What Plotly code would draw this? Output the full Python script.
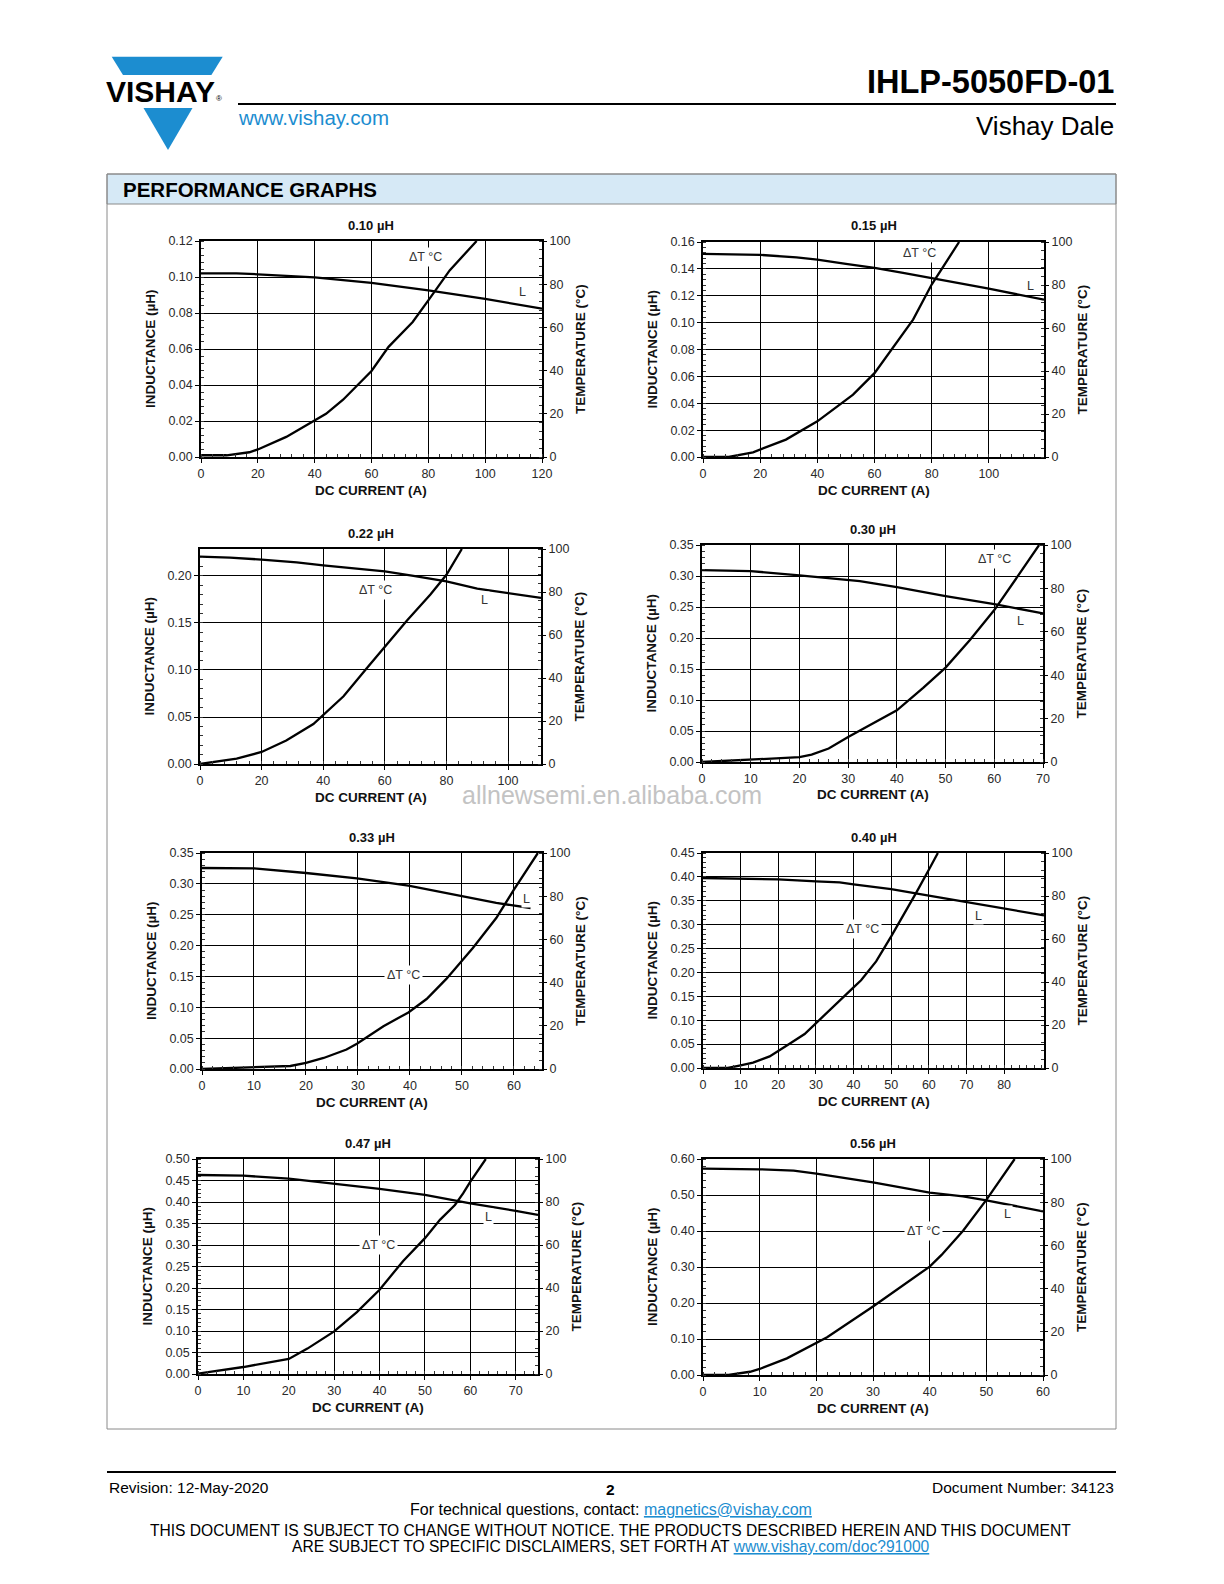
import plotly.graph_objects as go

W, H = 1224, 1584
FW, FH = 1208, 1568          # figure kept a little smaller than the window (avoids page overflow)

titles = ["0.10 µH", "0.15 µH", "0.22 µH", "0.30 µH", "0.33 µH", "0.40 µH", "0.47 µH", "0.56 µH"]

# ---- curve data: inductance L (µH) and temperature rise ΔT (°C) vs DC current (A)
c1_L_x = [0, 12.5, 20, 40, 60, 80, 100, 120]
c1_L_y = [0.102, 0.102, 0.1015, 0.0998, 0.0967, 0.0926, 0.0878, 0.0824]
c1_T_x = [0, 9, 17, 20, 30, 40, 44, 50, 60, 66, 74.5, 80, 87.5, 97]
c1_T_y = [0.8, 0.8, 2.2, 3.5, 9.3, 16.7, 20, 26.5, 39.8, 51, 62.5, 72.5, 86.4, 100]

c2_L_x = [0, 9, 20, 32.7, 40, 50, 60, 70, 80, 91, 100, 119.3]
c2_L_y = [0.1511, 0.151, 0.1504, 0.1486, 0.1469, 0.1437, 0.1407, 0.137, 0.1332, 0.129, 0.1253, 0.1171]
c2_T_x = [0, 9, 17.5, 29, 40, 52.5, 60, 67.7, 73.5, 80, 85, 89.6]
c2_T_y = [0, 0, 2.2, 8.1, 16.6, 29, 39, 53, 63.9, 80.2, 90.2, 100]

c3_L_x = [0, 9.75, 20, 31.4, 40, 51, 60, 69.3, 80, 90, 100, 110.7]
c3_L_y = [0.2206, 0.2195, 0.2174, 0.2145, 0.2113, 0.2078, 0.205, 0.2, 0.1943, 0.1865, 0.1819, 0.1766]
c3_T_x = [0, 11.9, 20, 28, 36.8, 40, 46.6, 54.2, 60, 67.2, 74.8, 80, 85]
c3_T_y = [0, 2.5, 5.6, 10.9, 18.6, 22.9, 31.5, 44.7, 54.7, 66.7, 78.8, 88, 100]

c4_L_x = [0, 10, 20, 30, 32.4, 40, 50, 60, 70]
c4_L_y = [0.3096, 0.308, 0.301, 0.2945, 0.2918, 0.2821, 0.2676, 0.2547, 0.2396]
c4_T_x = [0, 10, 15, 20, 22.5, 26, 30, 34.4, 40, 45.4, 50, 55, 60, 65, 69.2]
c4_T_y = [0, 1.1, 1.4, 2.2, 3.4, 6.2, 11.5, 16.9, 23.8, 34.2, 43.5, 56.2, 70, 86.2, 100]

c5_L_x = [0, 10, 20, 29.8, 39.7, 49.8, 56.6, 63.2]
c5_L_y = [0.3257, 0.3252, 0.3176, 0.309, 0.2971, 0.2809, 0.269, 0.2609]
c5_T_x = [0, 10, 17, 20, 23.4, 27.8, 29.8, 34.9, 39.7, 43.2, 47, 52.1, 56.6, 60, 64.6]
c5_T_y = [0, 0.9, 1.4, 2.8, 5.1, 9, 11.7, 19.8, 26.2, 32.4, 41.7, 56, 69.9, 83, 100]

c6_L_x = [0, 10, 20, 30, 36.3, 40, 50, 60, 70, 80, 90.6]
c6_L_y = [0.3977, 0.397, 0.3949, 0.3907, 0.3886, 0.3844, 0.3746, 0.3607, 0.3474, 0.3349, 0.3195]
c6_T_x = [0, 6.6, 10, 13.3, 17.7, 20, 23, 27, 30, 33.7, 40, 42, 46, 50, 53.1, 56.7, 60, 62.4]
c6_T_y = [0, 0, 1.2, 2.5, 5.4, 7.8, 11.3, 15.8, 20.9, 27.1, 37.5, 40.8, 49.6, 61.2, 70.5, 81.7, 92.2, 100]

c7_L_x = [0, 7.1, 10, 20, 30, 40, 50, 57, 60, 70, 74.9]
c7_L_y = [0.4628, 0.462, 0.4613, 0.4543, 0.4427, 0.4303, 0.4164, 0.4025, 0.397, 0.3793, 0.37]
c7_T_x = [0, 10, 20, 24.1, 30, 35, 40, 45.2, 50, 53.3, 56.6, 58.4, 60, 63.4]
c7_T_y = [0.2, 3.25, 7, 11.8, 19.8, 28.8, 39.2, 52.6, 63.2, 71.7, 78.6, 84, 89.5, 100]

c8_L_x = [0, 4.8, 10, 16, 20, 30, 40, 45.9, 50, 60]
c8_L_y = [0.5733, 0.5733, 0.5714, 0.5677, 0.5594, 0.5353, 0.5065, 0.4963, 0.4852, 0.4545]
c8_T_x = [0, 4.5, 8.3, 10, 14.8, 20, 21.9, 30, 40, 42.1, 45.9, 50, 55]
c8_T_y = [0, 0, 1.5, 2.8, 7.7, 14.7, 17.5, 31.7, 50.2, 55.6, 66.8, 81.1, 100]

L_x = [c1_L_x, c2_L_x, c3_L_x, c4_L_x, c5_L_x, c6_L_x, c7_L_x, c8_L_x]
L_y = [c1_L_y, c2_L_y, c3_L_y, c4_L_y, c5_L_y, c6_L_y, c7_L_y, c8_L_y]
T_x = [c1_T_x, c2_T_x, c3_T_x, c4_T_x, c5_T_x, c6_T_x, c7_T_x, c8_T_x]
T_y = [c1_T_y, c2_T_y, c3_T_y, c4_T_y, c5_T_y, c6_T_y, c7_T_y, c8_T_y]

# axis scales
x_max = [120, 119.3, 110.7, 70, 65.4, 90.6, 74.9, 60]
x_step = [20, 20, 20, 10, 10, 10, 10, 10]
x_tick_last = [120, 100, 100, 70, 60, 80, 70, 60]
y_max = [0.12, 0.16, 0.2287, 0.35, 0.35, 0.45, 0.50, 0.60]
y_step = [0.02, 0.02, 0.05, 0.05, 0.05, 0.05, 0.05, 0.10]
y_tick_last = [0.12, 0.16, 0.20, 0.35, 0.35, 0.45, 0.50, 0.60]
t_ticks = [0, 20, 40, 60, 80, 100]

# label positions (x in A, y on temperature scale)
dT_pos = [(79.1, 92.6), (75.6, 94.9), (57.1, 81.1), (60, 93.4), (38.7, 43.7), (42.5, 64.7), (39.7, 59.8), (38.9, 66.5)]
L_pos = [(113, 76.4), (114.5, 79.7), (92.4, 76.4), (65.4, 64.9), (62.5, 78.9), (73.3, 70.9), (63.9, 73.2), (53.7, 74.5)]

# plot-area boxes in page pixels (left, right, top, bottom)
boxes = [(201, 542, 241, 457), (703, 1044, 242, 457),
         (200, 541, 549, 764), (702, 1043, 545, 762),
         (202, 542, 853, 1069), (703, 1044, 853, 1068),
         (198, 538, 1159, 1374), (703, 1043, 1159, 1375)]

FONT = "Liberation Sans, Arial, Helvetica, sans-serif"
TICK_FONT = dict(family=FONT, size=12.5, color="#2a2a2a")
BOLD = dict(family=FONT, size=13.5, color="#111")
MINOR = dict(ticks="inside", ticklen=3, tickcolor="#333", tickwidth=0.8, showgrid=False, tick0=0)


def px(x):
    return x / FW


def py(y):
    return 1 - y / FH


def frange(a, b, s):
    out = []
    k = 0
    while a + k * s <= b + 1e-9:
        out.append(round(a + k * s, 6))
        k += 1
    return out


fig = go.Figure()
layout = dict(width=FW, height=FH, margin=dict(l=0, r=0, t=0, b=0, autoexpand=False),
              paper_bgcolor="white", plot_bgcolor="white", showlegend=False,
              font=dict(family=FONT))
annotations = []
shapes = []

for i in range(8):
    n = i + 1
    nr = i + 9
    l, r, t, b = boxes[i]
    xa = "x" if n == 1 else f"x{n}"
    ya = "y" if n == 1 else f"y{n}"
    yr = f"y{nr}"
    fig.add_trace(go.Scatter(x=L_x[i], y=L_y[i], mode="lines", xaxis=xa, yaxis=ya,
                             line=dict(color="black", width=2.3), hoverinfo="skip"))
    fig.add_trace(go.Scatter(x=T_x[i], y=T_y[i], mode="lines", xaxis=xa, yaxis=yr,
                             line=dict(color="black", width=2.3), hoverinfo="skip"))
    xv = frange(0, x_tick_last[i], x_step[i])
    yv = frange(0, y_tick_last[i], y_step[i])
    layout[f"xaxis{n}"] = dict(
        domain=[px(l), px(r)], anchor=ya, range=[0, x_max[i]],
        tickvals=xv, ticktext=[str(int(v)) for v in xv], tickfont=TICK_FONT,
        showgrid=True, gridcolor="black", gridwidth=1, zeroline=False,
        showline=True, linecolor="black", linewidth=1.5, mirror=True,
        ticks="outside", ticklen=4, tickcolor="black", tickwidth=1,
        minor=dict(dtick=x_step[i] / 5, **MINOR),
        fixedrange=True)
    layout[f"yaxis{n}"] = dict(
        domain=[py(b), py(t)], anchor=xa, range=[0, y_max[i]],
        tickvals=yv, ticktext=[f"{v:.2f}" for v in yv], tickfont=TICK_FONT,
        showgrid=True, gridcolor="black", gridwidth=1, zeroline=False,
        showline=True, linecolor="black", linewidth=1.5, mirror=True,
        ticks="outside", ticklen=4, tickcolor="black", tickwidth=1,
        minor=dict(dtick=y_step[i] / 5, **MINOR),
        fixedrange=True)
    layout[f"yaxis{nr}"] = dict(
        domain=[py(b), py(t)], anchor=xa, overlaying=ya, side="right",
        range=[0, 100], tickvals=t_ticks, tickfont=TICK_FONT,
        showgrid=False, zeroline=False, showline=False,
        ticks="outside", ticklen=4, tickcolor="black", tickwidth=1,
        minor=dict(dtick=4, **MINOR),
        fixedrange=True)
    cx = (l + r) / 2
    cy = (t + b) / 2
    annotations += [
        dict(text=f"<b>{titles[i]}</b>", x=px(cx), y=py(t - 16), xref="paper", yref="paper",
             showarrow=False, font=dict(family=FONT, size=13, color="#111"), xanchor="center", yanchor="middle"),
        dict(text="<b>INDUCTANCE (µH)</b>", x=px(l - 51), y=py(cy), xref="paper", yref="paper",
             showarrow=False, font=BOLD, textangle=-90, xanchor="center", yanchor="middle"),
        dict(text="<b>TEMPERATURE (°C)</b>", x=px(r + 38), y=py(cy), xref="paper", yref="paper",
             showarrow=False, font=BOLD, textangle=-90, xanchor="center", yanchor="middle"),
        dict(text="<b>DC CURRENT (A)</b>", x=px(cx), y=py(b + 33), xref="paper", yref="paper",
             showarrow=False, font=BOLD, xanchor="center", yanchor="middle"),
        dict(text="ΔT °C", x=dT_pos[i][0], y=dT_pos[i][1], xref=xa, yref=yr,
             showarrow=False, font=dict(family=FONT, size=12.5, color="#333"),
             bgcolor="white", borderpad=2, xanchor="center", yanchor="middle"),
        dict(text="L", x=L_pos[i][0], y=L_pos[i][1], xref=xa, yref=yr,
             showarrow=False, font=dict(family=FONT, size=12.5, color="#333"),
             bgcolor="white", borderpad=1, xanchor="center", yanchor="middle"),
    ]

BLUE = "#1c8dd0"
# logo
shapes.append(dict(type="path", xref="paper", yref="paper", fillcolor=BLUE, line=dict(width=0),
                   path=f"M {px(111.7)} {py(56.7)} L {px(222.7)} {py(56.7)} L {px(211.4)} {py(75)} L {px(123.0)} {py(75)} Z"))
shapes.append(dict(type="path", xref="paper", yref="paper", fillcolor=BLUE, line=dict(width=0),
                   path=f"M {px(143.5)} {py(108)} L {px(192.5)} {py(108)} L {px(168)} {py(150)} Z"))
# header rule
shapes.append(dict(type="line", xref="paper", yref="paper", x0=px(238), x1=px(1116), y0=py(104), y1=py(104),
                   line=dict(color="black", width=2)))
# performance box
shapes.append(dict(type="rect", xref="paper", yref="paper", x0=px(107), x1=px(1116), y0=py(174), y1=py(204),
                   fillcolor="#d6e9f6", line=dict(color="#8a8a8a", width=1), layer="below"))
shapes.append(dict(type="rect", xref="paper", yref="paper", x0=px(107), x1=px(1116), y0=py(174), y1=py(1429),
                   fillcolor="rgba(0,0,0,0)", line=dict(color="#8a8a8a", width=1), layer="below"))
# footer rule
shapes.append(dict(type="line", xref="paper", yref="paper", x0=px(107), x1=px(1116), y0=py(1472), y1=py(1472),
                   line=dict(color="black", width=2)))


def tx(text, x, y, size, xanchor="left", color="black", family=FONT):
    return dict(text=text, x=px(x), y=py(y), xref="paper", yref="paper", showarrow=False,
                xanchor=xanchor, yanchor="middle", font=dict(family=family, size=size, color=color))


annotations += [
    tx("<b>VISHAY</b>", 104, 91, 30),
    tx("®", 214, 99, 8),
    tx("www.vishay.com", 236, 118, 20.5, color=BLUE),
    tx("<b>IHLP-5050FD-01</b>", 1116, 82, 32.5, xanchor="right"),
    tx("Vishay Dale", 1116, 126, 26, xanchor="right"),
    tx("<b>PERFORMANCE GRAPHS</b>", 121, 190, 20.5),
    tx("allnewsemi.en.alibaba.com", 612, 795, 25, xanchor="center", color="#c3c3c3"),
    tx("Revision: 12-May-2020", 107, 1487, 15.5),
    tx("<b>2</b>", 611, 1489, 15.5, xanchor="center"),
    tx("Document Number: 34123", 1116, 1487, 15.5, xanchor="right"),
    tx(f"For technical questions, contact: <span style='color:{BLUE}'><u>magnetics@vishay.com</u></span>",
       611, 1509, 16, xanchor="center"),
    tx("THIS DOCUMENT IS SUBJECT TO CHANGE WITHOUT NOTICE. THE PRODUCTS DESCRIBED HEREIN AND THIS DOCUMENT",
       611, 1530, 15.6, xanchor="center"),
    tx(f"ARE SUBJECT TO SPECIFIC DISCLAIMERS, SET FORTH AT <span style='color:{BLUE}'><u>www.vishay.com/doc?91000</u></span>",
       611, 1546, 15.6, xanchor="center"),
]

layout["annotations"] = annotations
layout["shapes"] = shapes
fig.update_layout(**layout)
fig.write_html("out.html")
